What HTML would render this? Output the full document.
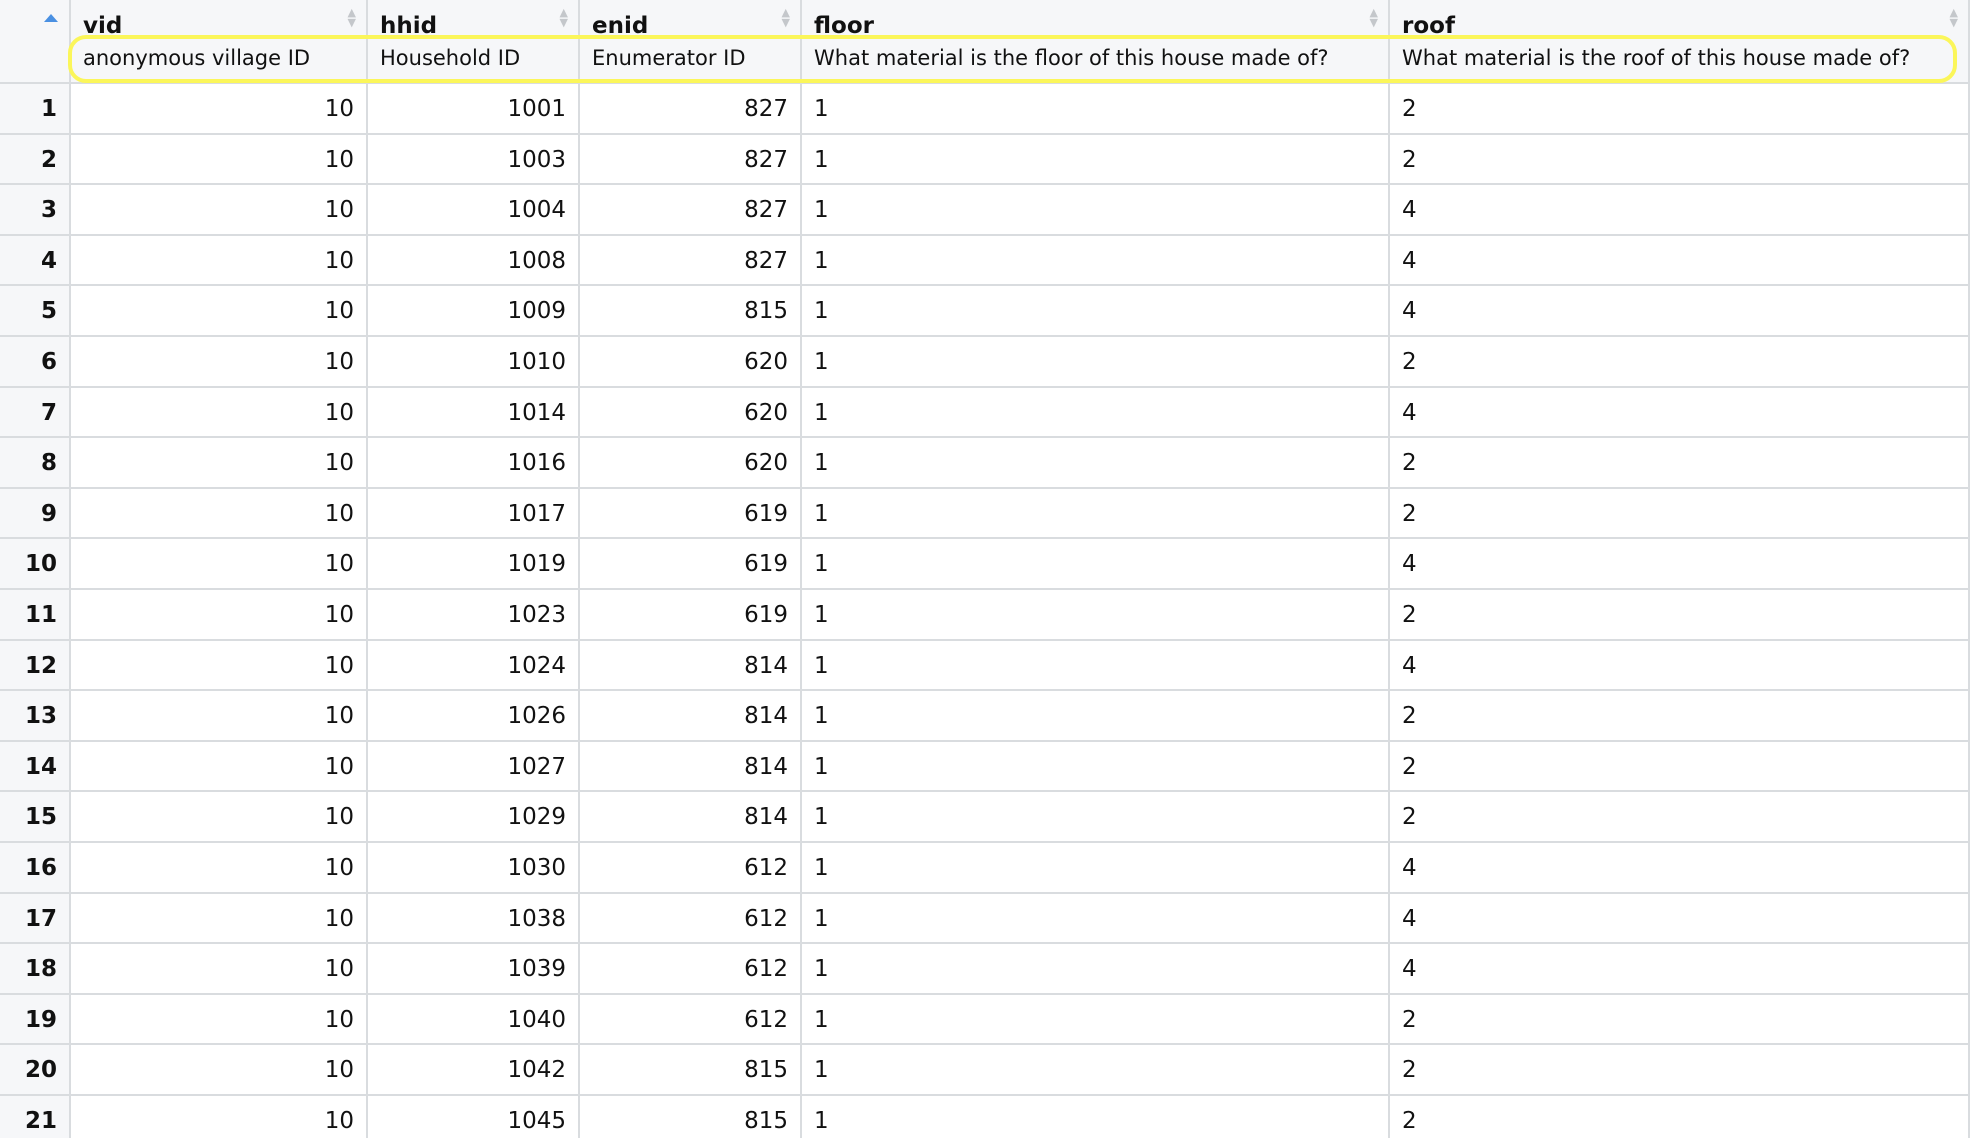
<!DOCTYPE html>
<html><head><meta charset="utf-8">
<style>
html,body{margin:0;padding:0;background:#fff;}
#root{position:relative;width:1972px;height:1138px;overflow:hidden;font-family:"DejaVu Sans","Liberation Sans",sans-serif;color:#111;}
.cell{position:absolute;box-sizing:border-box;border-right:2px solid #d9dcdf;border-bottom:2px solid #d9dcdf;white-space:nowrap;overflow:hidden;}
.hdr{background:#f6f7f9;}
.name{position:absolute;left:12px;top:13px;font-weight:bold;font-size:23px;}
.label{position:absolute;left:0;right:0;top:36px;bottom:0;padding-left:12px;padding-top:10px;font-size:21px;background:#f6f7f9;}
.sort{position:absolute;right:10px;top:8px;font-size:11px;line-height:10px;color:#c4c7cb;}
.data{font-size:23px;line-height:50px;padding:0 12px;}
.num{text-align:right;}
.rn{background:#f6f7f9;font-weight:bold;text-align:right;}
#hl{position:absolute;left:68px;top:35px;width:1889px;height:48px;box-sizing:border-box;border:4px solid #fbf65a;border-radius:18px;pointer-events:none;}
</style></head>
<body>
<div id="root"></div>
<script>
const colNames = ["vid","hhid","enid","floor","roof"];
const colLabels = ["anonymous village ID","Household ID","Enumerator ID","What material is the floor of this house made of?","What material is the roof of this house made of?"];
const vid = [10,10,10,10,10,10,10,10,10,10,10,10,10,10,10,10,10,10,10,10,10];
const hhid = [1001,1003,1004,1008,1009,1010,1014,1016,1017,1019,1023,1024,1026,1027,1029,1030,1038,1039,1040,1042,1045];
const enid = [827,827,827,827,815,620,620,620,619,619,619,814,814,814,814,612,612,612,612,815,815];
const floor = [1,1,1,1,1,1,1,1,1,1,1,1,1,1,1,1,1,1,1,1,1];
const roof = [2,2,4,4,4,2,4,2,2,4,2,4,2,2,2,4,4,4,2,2,2];

const root = document.getElementById('root');
const edges = [0,71,368,580,802,1390,1970];
const headH = 84, rowH = 50.6;
const cols = [vid,hhid,enid,floor,roof];
const numeric = [true,true,true,false,false];

function mk(cls,x,y,w,h){
  const d=document.createElement('div');
  d.className=cls;
  d.style.left=x+'px';d.style.top=y+'px';d.style.width=w+'px';d.style.height=h+'px';
  root.appendChild(d);return d;
}
const corner = mk('cell hdr',0,0,71,headH);


corner.innerHTML='<div style="position:absolute;left:44px;top:14px;width:0;height:0;border-left:7px solid transparent;border-right:7px solid transparent;border-bottom:8px solid #4a90e2"></div>';
for(let c=0;c<5;c++){
  const h = mk('cell hdr',edges[c+1],0,edges[c+2]-edges[c+1],headH);
  
  
  h.innerHTML='<div class="name">'+colNames[c]+'</div><div class="label">'+colLabels[c]+'</div><div class="sort">&#9650;<br>&#9660;</div>';
}
for(let r=0;r<vid.length;r++){
  const y = headH + r*rowH;
  const rn = mk('cell data rn',0,y,71,rowH);
  
  
  rn.textContent = r+1;
  for(let c=0;c<5;c++){
    const d = mk('cell data'+(numeric[c]?' num':''),edges[c+1],y,edges[c+2]-edges[c+1],rowH);
    
    
    d.textContent = cols[c][r];
  }
}
const hl = document.createElement('div');
hl.id='hl';


root.appendChild(hl);
</script>
</body></html>
